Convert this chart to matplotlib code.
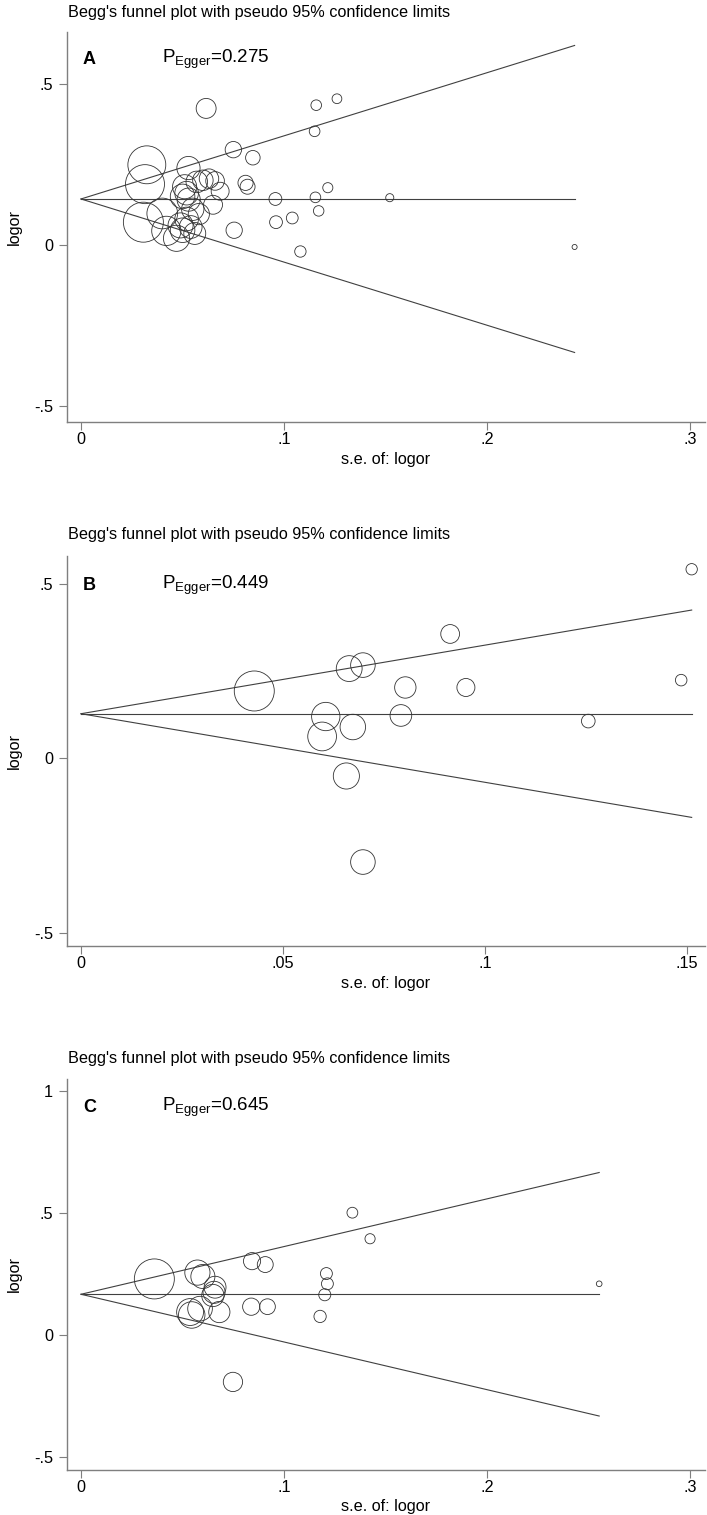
import matplotlib
matplotlib.use("Agg")
import matplotlib.pyplot as plt
import numpy as np

plt.rcParams['font.family'] = ['Liberation Sans', 'DejaVu Sans']
plt.rcParams['mathtext.fontset'] = 'custom'
plt.rcParams['mathtext.rm'] = 'Liberation Sans'
plt.rcParams['mathtext.it'] = 'Liberation Sans'

# ---------------- data ----------------
title_text = "Begg's funnel plot with pseudo 95% confidence limits"
panel_labels = ["A", "B", "C"]
egger_p = ["0.275", "0.449", "0.645"]
pooled = [0.142, 0.128, 0.167]

se_A = [0.0616, 0.1158, 0.1260, 0.1150, 0.0750, 0.0846, 0.0810, 0.0820, 0.1215,
        0.0957, 0.1154, 0.1170, 0.0960, 0.1040, 0.0754, 0.1080, 0.1520, 0.2430,
        0.0324, 0.0315, 0.0307, 0.0400, 0.0420, 0.0470, 0.0529,
        0.0510, 0.0520, 0.0530, 0.0500, 0.0570, 0.0600, 0.0630, 0.0660,
        0.0685, 0.0650, 0.0550, 0.0520, 0.0490, 0.0540, 0.0500, 0.0560, 0.0580]
lo_A = [0.423, 0.433, 0.453, 0.352, 0.295, 0.270, 0.192, 0.180, 0.177,
        0.142, 0.147, 0.105, 0.070, 0.083, 0.045, -0.021, 0.146, -0.007,
        0.248, 0.188, 0.070, 0.097, 0.043, 0.020, 0.238,
        0.180, 0.160, 0.140, 0.150, 0.195, 0.200, 0.205, 0.198,
        0.166, 0.124, 0.110, 0.080, 0.060, 0.055, 0.045, 0.035, 0.095]

se_B = [0.0429, 0.0606, 0.0597, 0.0673, 0.0792, 0.0657, 0.0698, 0.0803, 0.0953,
        0.1256, 0.1486, 0.1512, 0.0914, 0.0664, 0.0698]
lo_B = [0.193, 0.120, 0.063, 0.090, 0.123, -0.050, -0.296, 0.203, 0.203,
        0.107, 0.224, 0.541, 0.356, 0.257, 0.267]

se_C = [0.0361, 0.0573, 0.0600, 0.0660, 0.0649, 0.0655, 0.0586, 0.0537, 0.0545,
        0.0681, 0.0842, 0.0907, 0.0838, 0.0918, 0.0748, 0.1208, 0.1213, 0.1200,
        0.1177, 0.1336, 0.1423, 0.2551]
lo_C = [0.230, 0.256, 0.240, 0.196, 0.162, 0.175, 0.108, 0.094, 0.082,
        0.094, 0.303, 0.289, 0.116, 0.116, -0.193, 0.252, 0.210, 0.165,
        0.076, 0.502, 0.395, 0.210]

xticks_list = [[0, 0.1, 0.2, 0.3], [0, 0.05, 0.1, 0.15], [0, 0.1, 0.2, 0.3]]
yticks_list = [[-0.5, 0, 0.5], [-0.5, 0, 0.5], [-0.5, 0, 0.5, 1]]
ses = [se_A, se_B, se_C]
los = [lo_A, lo_B, lo_C]

# ---------------- layout ----------------
W, H = 707, 1515
DPI = 100
fig = plt.figure(figsize=(W / DPI, H / DPI), dpi=DPI)

# axes boxes in pixels: left, right, top, bottom
boxes = [(67, 704.6, 31.7, 422), (67, 704.6, 555.6, 946), (67, 704.6, 1079, 1469.6)]
xlims = [(-0.0069, 0.307), (-0.00347, 0.1544), (-0.0069, 0.307)]
ylims = [(-0.55, 0.661), (-0.536, 0.58), (-0.553, 1.051)]
title_y = [12.3, 535, 1058.8]

def fmt(v):
    if v == 0:
        return "0"
    s = f"{v:g}"
    s = s.replace("0.", ".")
    return s

gray = "#7f7f7f"
linec = "#404040"
FS = 11.7

for i in range(3):
    l, r, t, b = boxes[i]
    ax = fig.add_axes([l / W, 1 - b / H, (r - l) / W, (b - t) / H])
    ax.set_xlim(*xlims[i])
    ax.set_ylim(*ylims[i])
    for sp in ["top", "right"]:
        ax.spines[sp].set_visible(False)
    for sp in ["left", "bottom"]:
        ax.spines[sp].set_color(gray)
        ax.spines[sp].set_linewidth(1.0)
    ax.set_xticks(xticks_list[i])
    ax.set_xticklabels([fmt(v) for v in xticks_list[i]])
    ax.set_yticks(yticks_list[i])
    ax.set_yticklabels([fmt(v) for v in yticks_list[i]])
    ax.tick_params(axis="both", direction="out", length=6, width=0.8,
                   color=gray, labelsize=FS, labelcolor="black")
    ax.tick_params(axis="x", pad=1.5)
    ax.tick_params(axis="y", pad=4)
    ax.set_xlabel("s.e. of: logor", fontsize=FS, labelpad=3)

    se = np.array(ses[i])
    lo = np.array(los[i])
    theta = pooled[i]
    smax = se.max()
    xs = np.array([0, smax])
    ax.plot(xs, theta + 1.96 * xs, color=linec, lw=0.8)
    ax.plot(xs, theta - 1.96 * xs, color=linec, lw=0.8)
    ax.plot(xs, [theta, theta], color=linec, lw=0.8)

    # marker radius proportional to 1/se (largest weight -> ~20 px)
    r_px = 20.0 * se.min() / se
    d_pt = 2 * r_px * 72.0 / DPI
    ax.scatter(se, lo, s=d_pt ** 2, facecolors="none", edgecolors="#333333",
               linewidths=0.6, zorder=3, clip_on=False)

    yl = ylims[i][1] - (0.086 if i != 2 else 0.115)
    ax.text(0.001 if i != 1 else 0.0005, yl,
            panel_labels[i], fontsize=13, fontweight="bold", ha="left", va="center")
    xp = [0.040, 0.020, 0.040][i]
    ax.text(xp, yl, r"P$_{\mathrm{Egger}}$=" + egger_p[i], fontsize=13.5,
            ha="left", va="center")

    fig.text(68 / W, 1 - title_y[i] / H, title_text, fontsize=FS,
             ha="left", va="center")
    fig.text(14 / W, 1 - ((t + b) / 2) / H, "logor", fontsize=FS,
             rotation=90, ha="center", va="center")

fig.savefig("out.png", dpi=DPI)
